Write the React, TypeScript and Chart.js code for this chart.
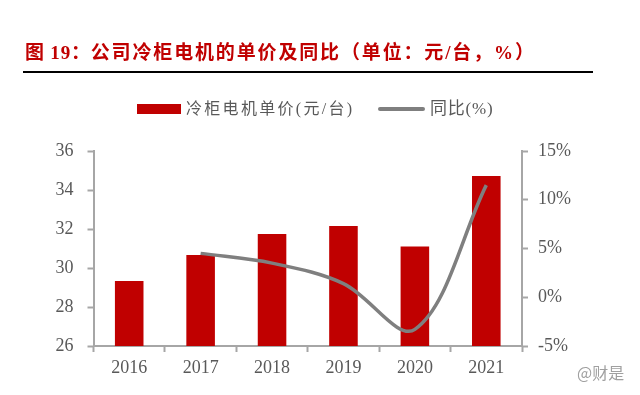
import React, { useEffect, useRef } from "react";
import { Chart, registerables } from "chart.js";

Chart.register(...registerables);

const years = ["2016", "2017", "2018", "2019", "2020", "2021"];
const unitPrice = [29.33, 30.67, 31.75, 32.15, 31.1, 34.72];
const yoy = [null, 4.5, 3.5, 1.4, -3.3, 11.5];
const titlePrefix = "图 19\uFF1A";
const titleText = "公司冷柜电机的单价及同比\uFF08单位\uFF1A元/台\uFF0C%\uFF09";
const barLabel = "冷柜电机单价(元/台)";
const lineLabel = "同比(%)";
const watermark = "@财是";

const RED = "#c00000";
const GRAY = "#7f7f7f";
const AXIS = "#a6a6a6";
const TEXT = "#595959";
const SERIF = "'Liberation Serif', 'Noto Sans CJK SC', serif";

export default function App() {
  const ref = useRef<HTMLCanvasElement | null>(null);

  useEffect(() => {
    document.body.style.margin = "0";
    const chart = new Chart(ref.current!, {
      type: "bar",
      data: {
        labels: years,
        datasets: [
          {
            type: "line",
            label: lineLabel,
            data: yoy,
            yAxisID: "y1",
            borderColor: GRAY,
            borderWidth: 3.5,
            pointRadius: 0,
            tension: 0.35,
            order: 1,
          },
          {
            type: "bar",
            label: barLabel,
            data: unitPrice,
            yAxisID: "y",
            backgroundColor: RED,
            barPercentage: 0.4,
            categoryPercentage: 1,
            order: 2,
          },
        ],
      } as any,
      options: {
        animation: false,
        responsive: false,
        layout: { padding: { top: 151 } },
        plugins: { legend: { display: false }, title: { display: false }, tooltip: { enabled: false } },
        scales: {
          x: {
            offset: true,
            border: { color: AXIS, width: 2 },
            grid: { offset: true, drawOnChartArea: false, color: AXIS, tickLength: 6, tickWidth: 2 } as any,
            ticks: { color: TEXT, font: { family: SERIF, size: 18 }, padding: 5, maxRotation: 0 },
            afterFit: (s: any) => { s.height = 49; },
          },
          y: {
            position: "left",
            min: 26,
            max: 36,
            border: { color: AXIS, width: 2 },
            grid: { drawOnChartArea: false, color: AXIS, tickLength: 6, tickWidth: 2 },
            ticks: { stepSize: 2, color: TEXT, font: { family: SERIF, size: 18 }, padding: 14 },
            afterFit: (s: any) => { s.width = 93.5; },
          },
          y1: {
            position: "right",
            min: -5,
            max: 15,
            border: { color: AXIS, width: 2 },
            grid: { drawOnChartArea: false, color: AXIS, tickLength: 6, tickWidth: 2 },
            ticks: {
              stepSize: 5,
              color: TEXT,
              font: { family: SERIF, size: 18 },
              padding: 10,
              callback: (v: any) => `${v}%`,
            },
            afterFit: (s: any) => { s.width = 118; },
          },
        },
      } as any,
    });
    return () => chart.destroy();
  }, []);

  return (
    <div style={{ position: "relative", width: 640, height: 395, overflow: "hidden", background: "#fff" }}>
      <canvas ref={ref} width={640} height={395} style={{ position: "absolute", left: 0, top: 0, display: "block" }} />
      <div style={{ position: "absolute", left: 25, top: 41, color: RED, fontFamily: SERIF, fontWeight: 700, fontSize: 19, lineHeight: "24px", whiteSpace: "nowrap", letterSpacing: 1.85 }}>
        <span style={{ letterSpacing: 0.8 }}>{titlePrefix}</span>
        {titleText}
      </div>
      <div style={{ position: "absolute", left: 23, top: 71, width: 570, height: 2, background: "#000" }} />
      <div style={{ position: "absolute", left: 137, top: 104, width: 44, height: 10, background: RED }} />
      <div style={{ position: "absolute", left: 186, top: 98, color: TEXT, fontFamily: SERIF, fontSize: 16, lineHeight: "22px", whiteSpace: "nowrap", letterSpacing: 2.3 }}>
        {barLabel}
      </div>
      <div style={{ position: "absolute", left: 378, top: 107, width: 47, height: 4, borderRadius: 2, background: GRAY }} />
      <div style={{ position: "absolute", left: 430, top: 98, color: TEXT, fontFamily: SERIF, fontSize: 17, lineHeight: "22px", whiteSpace: "nowrap", letterSpacing: 0.8 }}>
        {lineLabel}
      </div>
      <div style={{ position: "absolute", left: 577, top: 362, color: "#a0a0a0", fontFamily: "'Noto Sans CJK SC', sans-serif", fontSize: 16, lineHeight: "20px", whiteSpace: "nowrap" }}>
        {watermark}
      </div>
    </div>
  );
}
